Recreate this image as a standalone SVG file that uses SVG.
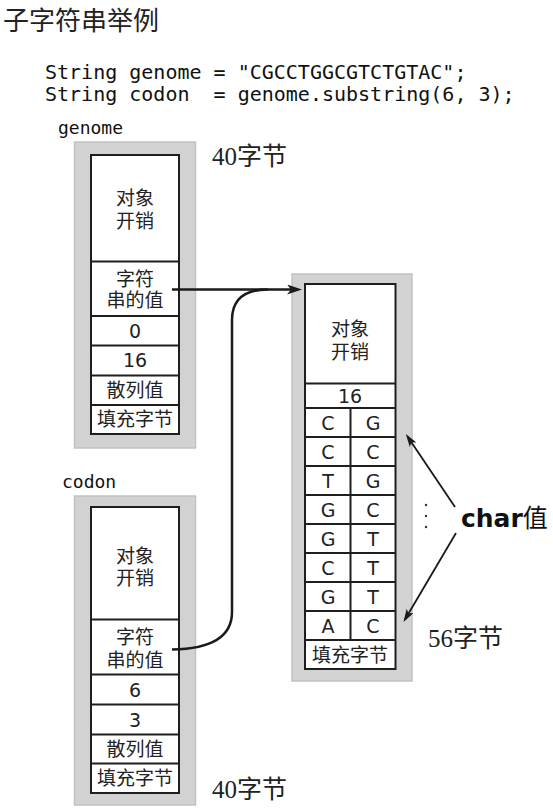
<svg xmlns="http://www.w3.org/2000/svg" width="553" height="809" viewBox="0 0 553 809">
<defs>
<style>
.bg{fill:#ffffff}
.gray{fill:#d2d2d2;stroke:#c2c2c2;stroke-width:1.5}
.cell{fill:#ffffff;stroke:#1e1e1e;stroke-width:2}
.div{stroke:#1e1e1e;stroke-width:2;fill:none}
.cjk{font-family:"Noto Sans CJK SC","Noto Sans",sans-serif;font-size:19px;fill:#222;text-anchor:middle}
.num{font-family:"DejaVu Sans","Noto Sans",sans-serif;font-size:19px;fill:#222;text-anchor:middle}
.mono{font-family:"DejaVu Sans Mono","Liberation Mono",monospace;fill:#111}
.size{font-family:"Liberation Serif","Noto Sans CJK SC",serif;font-size:25px;fill:#222}
.conn{fill:none;stroke:#1a1a1a;stroke-width:2.5}
.thin{fill:none;stroke:#1a1a1a;stroke-width:1.8}
</style>
<marker id="ah" markerWidth="16" markerHeight="12" refX="11" refY="5" orient="auto" markerUnits="userSpaceOnUse">
<path d="M0,0 L15,5 L0,10 L4,5 z" fill="#1a1a1a"/>
</marker>
<marker id="ahs" markerWidth="14" markerHeight="10" refX="10" refY="4" orient="auto" markerUnits="userSpaceOnUse">
<path d="M0,0 L13,4 L0,8 L3,4 z" fill="#1a1a1a"/>
</marker>
</defs>
<rect class="bg" x="0" y="0" width="553" height="809"/>

<g id="title">
<text x="3" y="30" style="font-family:'Noto Sans CJK SC','Noto Sans',sans-serif;font-size:26px;fill:#222">子字符串举例</text>
</g>

<g id="code">
<text class="mono" x="45" y="79" font-size="20" xml:space="preserve">String genome = "CGCCTGGCGTCTGTAC";</text>
<text class="mono" x="45" y="101" font-size="20" xml:space="preserve">String codon  = genome.substring(6, 3);</text>
</g>

<g id="genome">
<text class="mono" x="58" y="134" font-size="18">genome</text>
<rect class="gray" x="74.5" y="142" width="121" height="306"/>
<rect class="cell" x="91" y="155" width="88" height="279"/>
<path class="div" d="M91,261.5H179M91,316H179M91,345.5H179M91,375.5H179M91,405H179"/>
<text class="cjk"><tspan x="135" y="205">对象</tspan><tspan x="135" y="228">开销</tspan></text>
<text class="cjk"><tspan x="135" y="286">字符</tspan><tspan x="135" y="307">串的值</tspan></text>
<text class="num" x="135" y="338">0</text>
<text class="num" x="135" y="367">16</text>
<text class="cjk" x="135" y="397">散列值</text>
<text class="cjk" x="135" y="426">填充字节</text>
<text class="size" x="212" y="165">40字节</text>
</g>

<g id="codon">
<text class="mono" x="62" y="488" font-size="18">codon</text>
<rect class="gray" x="74.5" y="496" width="121" height="309"/>
<rect class="cell" x="91" y="507" width="88" height="286"/>
<path class="div" d="M91,619.5H179M91,674.5H179M91,704.5H179M91,734.5H179M91,763.5H179"/>
<text class="cjk"><tspan x="135" y="563">对象</tspan><tspan x="135" y="585">开销</tspan></text>
<text class="cjk"><tspan x="135" y="644">字符</tspan><tspan x="135" y="667">串的值</tspan></text>
<text class="num" x="135" y="697">6</text>
<text class="num" x="135" y="727">3</text>
<text class="cjk" x="135" y="756">散列值</text>
<text class="cjk" x="135" y="785">填充字节</text>
<text class="size" x="212" y="798">40字节</text>
</g>

<g id="chars">
<rect class="gray" x="292" y="274" width="120" height="407"/>
<rect class="cell" x="305" y="284" width="90.5" height="385"/>
<path class="div" d="M305,383.5H395.5M305,408H395.5M305,437H395.5M305,466H395.5M305,495H395.5M305,524H395.5M305,553H395.5M305,582H395.5M305,611H395.5M305,640H395.5M350.5,408V640"/>
<text class="cjk"><tspan x="350" y="336">对象</tspan><tspan x="350" y="359">开销</tspan></text>
<text class="num" x="350" y="403">16</text>
<g class="num">
<text x="328" y="430">C</text><text x="373" y="430">G</text>
<text x="328" y="459">C</text><text x="373" y="459">C</text>
<text x="328" y="488">T</text><text x="373" y="488">G</text>
<text x="328" y="517">G</text><text x="373" y="517">C</text>
<text x="328" y="546">G</text><text x="373" y="546">T</text>
<text x="328" y="575">C</text><text x="373" y="575">T</text>
<text x="328" y="604">G</text><text x="373" y="604">T</text>
<text x="328" y="633">A</text><text x="373" y="633">C</text>
</g>
<text class="cjk" x="350" y="662">填充字节</text>
<text class="size" x="428" y="647">56字节</text>
</g>

<g id="charlabel">
<circle cx="426" cy="505" r="1.2" fill="#333"/>
<circle cx="426" cy="516" r="1.2" fill="#333"/>
<circle cx="426" cy="527" r="1.2" fill="#333"/>
<text x="461" y="527" style="font-family:'DejaVu Sans','Noto Sans',sans-serif;font-size:25px;font-weight:bold;fill:#111">char<tspan style="font-family:'Noto Sans CJK SC',sans-serif;font-weight:normal;font-size:25px">值</tspan></text>
</g>

<g id="connectors">
<path class="conn" d="M172,289.5H298" marker-end="url(#ah)"/>
<path class="conn" d="M172,649.5C205,649 232,640 232,612L232,320C232,300 244,289.5 268,289.5"/>
<path class="thin" d="M455,507L407.5,436.5" marker-end="url(#ahs)"/>
<path class="thin" d="M456,533L405,619.5" marker-end="url(#ahs)"/>
</g>
</svg>
